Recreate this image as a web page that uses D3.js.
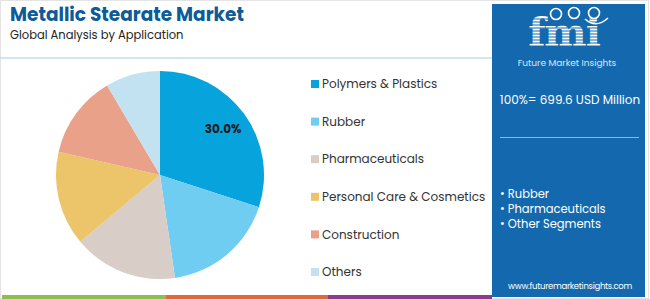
<!DOCTYPE html>
<html>
<head>
<meta charset="utf-8">
<script src="https://cdn.jsdelivr.net/npm/d3@7"></script>
<style>
  body { margin: 0; background: #fff; }
  svg { display: block; font-family: "Poppins", "Open Sans", sans-serif; }
</style>
</head>
<body>
<svg id="chart" width="650" height="299"></svg>
<script>
// data
const categories = ["Polymers & Plastics", "Rubber", "Pharmaceuticals", "Personal Care & Cosmetics", "Construction", "Others"];
const shares = [30.0, 17.7, 16.2, 14.7, 12.9, 8.5];
const colors = ["#06a3dc", "#6ecdf1", "#d9cdc8", "#ecc56a", "#e9a189", "#c3e2f1"];
const panelBullets = ["Rubber", "Pharmaceuticals", "Other Segments"];
const totalLabel = "100%= 699.6 USD Million";

const svg = d3.select("#chart");

// frame
svg.append("rect").attr("x", 0.5).attr("y", 0.5).attr("width", 648).attr("height", 298)
  .attr("fill", "none").attr("stroke", "#e4e4e4");

// header
svg.append("text").attr("x", 10).attr("y", 21)
  .attr("font-size", 18.5).attr("font-weight", 700).attr("fill", "#0d5b97")
  .text("Metallic Stearate Market");
svg.append("text").attr("x", 10).attr("y", 39)
  .attr("font-size", 11.5).attr("fill", "#222")
  .text("Global Analysis by Application");
svg.append("line").attr("x1", 0).attr("x2", 492).attr("y1", 58).attr("y2", 58)
  .attr("stroke", "#c7dcea").attr("stroke-width", 1.5);

// bottom bars
const bars = [["#8cc04b", 2, 166], ["#e0683a", 166, 328], ["#8c3b8c", 328, 492]];
svg.selectAll("rect.bar").data(bars).enter().append("rect").attr("class", "bar")
  .attr("x", function(d) { return d[1]; }).attr("y", 295)
  .attr("width", function(d) { return d[2] - d[1]; }).attr("height", 4)
  .attr("fill", function(d) { return d[0]; });

// pie
const data = categories.map(function(c, i) {
  return { name: c, value: shares[i], color: colors[i] };
});
const pie = d3.pie().sort(null).value(function(d) { return d.value; });
const radius = 104;
const arc = d3.arc().innerRadius(0).outerRadius(radius);
const labelArc = d3.arc().innerRadius(radius * 0.75).outerRadius(radius * 0.75);
const g = svg.append("g").attr("transform", "translate(160,175)");
const arcs = pie(data);
g.selectAll("path").data(arcs).enter().append("path")
  .attr("d", arc)
  .attr("fill", function(d) { return d.data.color; });
g.selectAll("text").data(arcs.slice(0, 1)).enter().append("text")
  .attr("transform", function(d) { return "translate(" + labelArc.centroid(d) + ")"; })
  .attr("text-anchor", "middle").attr("dy", "0.35em")
  .attr("font-size", 12).attr("font-weight", 700).attr("fill", "#1a1a1a")
  .text(function(d) { return d.data.value.toFixed(1) + "%"; });

// legend
const ly = d3.scalePoint().domain(categories).range([84, 272]);
const legend = svg.selectAll("g.leg").data(data).enter().append("g").attr("class", "leg")
  .attr("transform", function(d) { return "translate(311," + ly(d.name) + ")"; });
legend.append("rect").attr("x", 0).attr("y", -4).attr("width", 8).attr("height", 8)
  .attr("fill", function(d) { return d.color; });
legend.append("text").attr("x", 11).attr("dy", "0.35em")
  .attr("font-size", 12).attr("fill", "#333")
  .text(function(d) { return d.name; });

// right panel
const panel = svg.append("g");
panel.append("rect").attr("x", 492).attr("y", 4).attr("width", 153).attr("height", 293)
  .attr("fill", "#1468ad");

// logo
const logo = panel.append("g");
logo.append("text").attr("x", 564).attr("y", 46).attr("text-anchor", "middle")
  .attr("font-family", "DejaVu Serif, serif").attr("font-size", 40).attr("font-weight", 700)
  .attr("fill", "#fff").attr("letter-spacing", -1).text("fmi");
d3.range(19, 48, 3).forEach(function(y) {
  logo.append("line").attr("x1", 510).attr("x2", 625).attr("y1", y).attr("y2", y)
    .attr("stroke", "#1468ad").attr("stroke-width", 1);
});
[[556, 14], [574, 13], [594, 13]].forEach(function(p) {
  logo.append("circle").attr("cx", p[0]).attr("cy", p[1]).attr("r", 5.5)
    .attr("fill", "#1468ad").attr("stroke", "#fff").attr("stroke-width", 1.6);
});
logo.append("path").attr("d", "M585,19 Q596,29 608,18")
  .attr("fill", "none").attr("stroke", "#fff").attr("stroke-width", 1.5);
logo.append("text").attr("x", 567).attr("y", 66).attr("text-anchor", "middle")
  .attr("font-size", 9).attr("fill", "#dbe9f5").text("Future Market Insights");

panel.append("text").attr("x", 570).attr("y", 104).attr("text-anchor", "middle")
  .attr("font-size", 12).attr("fill", "#fff").text(totalLabel);
panel.append("line").attr("x1", 500).attr("x2", 639).attr("y1", 137.5).attr("y2", 137.5)
  .attr("stroke", "#7fbde8").attr("stroke-width", 1.2);
panel.selectAll("text.bul").data(panelBullets).enter().append("text").attr("class", "bul")
  .attr("x", 500).attr("y", function(d, i) { return 198 + i * 15; })
  .attr("font-size", 11.5).attr("fill", "#fff")
  .text(function(d) { return "\u2022 " + d; });
panel.append("text").attr("x", 570).attr("y", 289).attr("text-anchor", "middle")
  .attr("font-size", 8.5).attr("fill", "#fff").attr("letter-spacing", -0.3)
  .text("www.futuremarketinsights.com");
</script>
</body>
</html>
